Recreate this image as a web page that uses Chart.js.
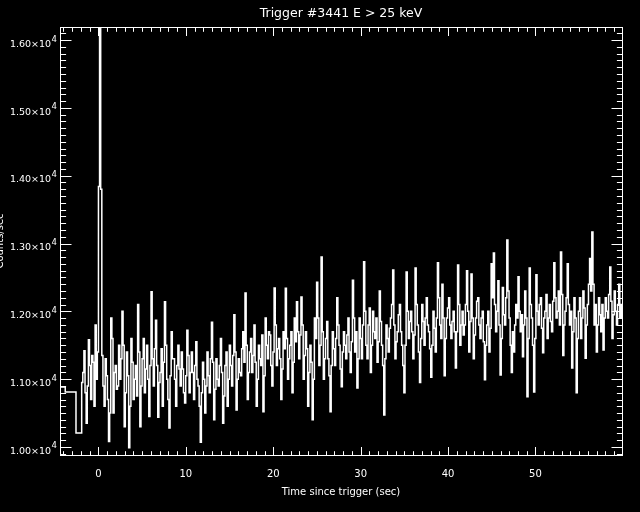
<!DOCTYPE html>
<html>
<head>
<meta charset="utf-8">
<script src="https://cdn.jsdelivr.net/npm/chart.js@4/dist/chart.umd.min.js"></script>
<style>
  html, body { margin: 0; padding: 0; background: #000; }
  canvas { display: block; }
</style>
</head>
<body>
<canvas id="c" width="640" height="512"></canvas>
<script>
// ---- chart data ----
const titleText = 'Trigger #3441 E > 25 keV';
const xTitle = 'Time since trigger (sec)';
const yTitle = 'Counts/sec';

// coarse pre-trigger bins (bin start times, sec) and rates
const preTimes  = [-4.40, -3.80, -2.57];
const preCounts = [10885, 10811, 10206];

// fine bins (start at fineStart, width binWidth)
const fineStart = -1.92;
const binWidth = 0.128;
const fineCounts = [
  10950, 11100, 11420, 10800, 10350, 10900, 11580, 11200, 10700, 11350, 11250, 10600, 11800, 11000, 11400,
  13840, 16600, 13800,
  11350, 10900, 10600, 11300, 11050, 10700, 10080, 10500, 11900, 11600, 10500, 11100, 11200, 10850, 10900, 11500,
  11000, 11300, 12000, 11500, 10300, 10800, 11400, 11050, 9990, 10600, 11600, 11250, 10700, 11000, 11200, 10750,
  12100, 11400, 10300, 10900, 11300, 11600, 10800, 11150, 11500, 11000, 10450, 11200, 12290, 11300, 10900, 11450,
  11870, 11200, 10440, 10950, 11100, 11450, 10600, 11250, 12140, 11500, 11000, 10700, 10280, 11050, 11700, 11300,
  11300, 11000, 10600, 11200, 11500, 11150, 10900, 11400, 11150, 10800, 10650, 11050, 11720, 11350, 10800, 11100,
  11400, 11100, 10700, 11200, 11550, 11000, 10900, 10600, 10070, 10800, 11250, 11000, 10500, 10900, 11400, 11050,
  10800, 11300, 11840, 11250, 10400, 10850, 11300, 11000, 10900, 11200, 11600, 11100, 10350, 10750, 11200, 11400,
  10600, 11000, 11500, 11200, 10900, 11350, 11950, 11400, 10545, 11000, 11300, 11100, 11050, 11450, 11700, 11250,
  12270, 11500, 10700, 11100, 11400, 11600, 11100, 11350, 11800, 11250, 10600, 11000, 11500, 11300, 11200, 11650,
  10520, 11050, 11900, 11500, 11300, 11700, 11650, 11200, 10900, 11400, 12345, 11800, 11200, 11450, 11600, 11300,
  10700, 11150, 11700, 11450, 12340, 11600, 11000, 11300, 11500, 11700, 10800, 11250, 11900, 11550, 12140, 11700,
  11300, 11650, 12210, 11800, 11000, 11350, 11700, 11450, 10600, 11100, 11500, 11250, 10400, 11000, 11900, 11600,
  12430, 11900, 11200, 11500, 12800, 11700, 11000, 11300, 11600, 11850, 11300, 11050, 10520, 11200, 11700, 11450,
  11200, 11600, 12200, 11800, 11500, 11150, 10890, 11400, 11700, 11500, 11300, 11650, 11900, 11400, 11100, 11550,
  12460, 11900, 11400, 11700, 10870, 11300, 11900, 11600, 11300, 11800, 12730, 12000, 11500, 11300, 11800, 12050,
  11100, 11500, 12000, 11700, 11600, 11900, 11250, 11550, 12300, 11850, 11500, 11200, 10470, 11300, 11800, 11600,
  11400, 11750, 11900, 12100, 12610, 11800, 11300, 11550, 11700, 11950, 12100, 11700, 11500, 11200, 10800, 11500,
  12580, 12000, 11600, 11850, 12000, 11700, 11300, 11650, 12640, 12100, 11800, 11400, 10950, 11600, 12100, 11850,
  11500, 11900, 12200, 11800, 11700, 11450, 11030, 11500, 12000, 11750, 11400, 11900, 12715, 12200, 11800, 11600,
  12400, 11900, 11050, 11600, 11900, 12050, 12200, 11800, 11600, 11850, 12000, 11700, 11165, 11700, 12685, 12100,
  11500, 11800, 12000, 11650, 11800, 12100, 12600, 12000, 11400, 11850, 12550, 11900, 11300, 11650, 11900, 12150,
  12200, 11800, 11600, 11900, 12000, 11550, 10990, 11500, 11800, 12000, 11400, 11750, 12700, 12200, 12860, 12100,
  11700, 12000, 12450, 11800, 11060, 11600, 12350, 11950, 11800, 12200, 13050, 12300, 11900, 11500, 11100, 11700,
  11400, 11800, 12100, 11900, 12510, 12000, 11700, 11950, 11330, 11800, 12300, 11900, 10740, 11600, 12640, 12100,
  11900, 11500, 10810, 11600, 12540, 12000, 11800, 12100, 12200, 11750, 11390, 11900, 12000, 12250, 11600, 11900,
  12100, 11850, 11700, 12150, 12715, 12200, 11900, 12000, 12300, 11800, 12875, 12250, 11350, 11800, 12000, 12200,
  12700, 12100, 11800, 12000, 11165, 11700, 12200, 11900, 10800, 11600, 12000, 12200, 11600, 11900, 12300, 12050,
  11310, 11800, 12100, 12400, 12780, 12300, 13170, 12400, 11800, 12100, 11400, 11800, 12200, 11950, 11700, 12100,
  11430, 11900, 12200, 12000, 11900, 12250, 12655, 12150, 11600, 11950, 12300, 12000, 11800, 12100, 12400, 11900,
  12100, 11900
];

// axes
const xRange = [-4.4, 59.9];
const yRange = [9882, 16192];
const xMajorTicks = [0, 10, 20, 30, 40, 50];
const xTickLabels = ['0', '10', '20', '30', '40', '50'];
const xMinorStep = 1;
const yMajorTicks = [10000, 11000, 12000, 13000, 14000, 15000, 16000];
const yTickMantissa = ['1.00', '1.10', '1.20', '1.30', '1.40', '1.50', '1.60'];
const yTickExponent = '4';
const yMinorStep = 100;

// ---- build dataset from arrays ----
const points = [];
preTimes.forEach((t, i) => points.push({ x: t, y: preCounts[i] }));
fineCounts.forEach((v, i) => points.push({ x: fineStart + i * binWidth, y: v }));

const FONT = '"DejaVu Sans", sans-serif';

const framePlugin = {
  id: 'idlFrame',
  beforeDraw(chart) {
    const ctx = chart.ctx;
    ctx.save();
    ctx.fillStyle = '#000';
    ctx.fillRect(0, 0, chart.width, chart.height);
    ctx.restore();
  },
  afterDraw(chart) {
    const ctx = chart.ctx;
    const xs = chart.scales.x, ys = chart.scales.y;
    const { left, right, top, bottom } = chart.chartArea;
    const L = Math.round(left) + 0.5, R = Math.round(right) + 0.5;
    const T = Math.round(top) + 0.5, B = Math.round(bottom) + 0.5;
    ctx.save();
    ctx.strokeStyle = '#fff';
    ctx.fillStyle = '#fff';
    ctx.lineWidth = 1;
    ctx.strokeRect(L, T, R - L, B - T);

    // x ticks (bottom and top, inward)
    ctx.beginPath();
    const xStartTick = Math.ceil(xRange[0] / xMinorStep) * xMinorStep;
    for (let v = xStartTick; v <= xRange[1] + 1e-9; v += xMinorStep) {
      const isMajor = xMajorTicks.includes(Math.round(v));
      const len = isMajor ? 8.5 : 4.3;
      const px = Math.round(xs.getPixelForValue(v)) + 0.5;
      ctx.moveTo(px, B); ctx.lineTo(px, B - len);
      ctx.moveTo(px, T); ctx.lineTo(px, T + len);
    }
    // y ticks (left and right, inward)
    const yStartK = Math.ceil(yRange[0] / yMinorStep);
    const yEndK = Math.floor(yRange[1] / yMinorStep);
    for (let k = yStartK; k <= yEndK; k++) {
      const v = k * yMinorStep;
      const isMajor = yMajorTicks.includes(v);
      const len = isMajor ? 11 : 5.6;
      const py = Math.round(ys.getPixelForValue(v)) + 0.5;
      ctx.moveTo(L, py); ctx.lineTo(L + len, py);
      ctx.moveTo(R, py); ctx.lineTo(R - len, py);
    }
    ctx.stroke();

    // x tick labels
    ctx.font = '10px ' + FONT;
    ctx.textAlign = 'center';
    ctx.textBaseline = 'alphabetic';
    xMajorTicks.forEach((v, i) => {
      ctx.fillText(xTickLabels[i], xs.getPixelForValue(v), 477);
    });

    // y tick labels with superscript exponent
    yMajorTicks.forEach((v, i) => {
      const py = ys.getPixelForValue(v);
      ctx.font = '8.5px ' + FONT;
      ctx.textAlign = 'right';
      ctx.fillText(yTickExponent, 57, py + 1.5);
      const ew = ctx.measureText(yTickExponent).width;
      ctx.font = '9.5px ' + FONT;
      ctx.fillText(yTickMantissa[i] + '\u00d710', 57 - ew - 0.5, py + 6.8);
    });

    // titles
    ctx.textAlign = 'center';
    ctx.font = '12.5px ' + FONT;
    ctx.fillText(titleText, (left + right) / 2, 17);
    ctx.font = '10px ' + FONT;
    ctx.fillText(xTitle, (left + right) / 2, 495);
    ctx.save();
    ctx.translate(3, (top + bottom) / 2);
    ctx.rotate(-Math.PI / 2);
    ctx.fillText(yTitle, 0, 0);
    ctx.restore();

    ctx.restore();
  }
};

new Chart(document.getElementById('c'), {
  type: 'line',
  data: {
    datasets: [{
      data: points,
      borderColor: '#ffffff',
      borderWidth: 1.5,
      pointRadius: 0,
      stepped: 'before',
      fill: false,
      tension: 0
    }]
  },
  options: {
    responsive: false,
    animation: false,
    devicePixelRatio: 1,
    layout: { padding: { left: 0, top: 27, right: 18, bottom: 0 } },
    plugins: {
      legend: { display: false },
      title: { display: false },
      tooltip: { enabled: false }
    },
    scales: {
      x: {
        type: 'linear', min: xRange[0], max: xRange[1],
        grid: { display: false }, border: { display: false },
        ticks: { display: false },
        afterFit: s => { s.height = 57; }
      },
      y: {
        type: 'linear', min: yRange[0], max: yRange[1],
        grid: { display: false }, border: { display: false },
        ticks: { display: false },
        afterFit: s => { s.width = 60; }
      }
    }
  },
  plugins: [framePlugin]
});
</script>
</body>
</html>
